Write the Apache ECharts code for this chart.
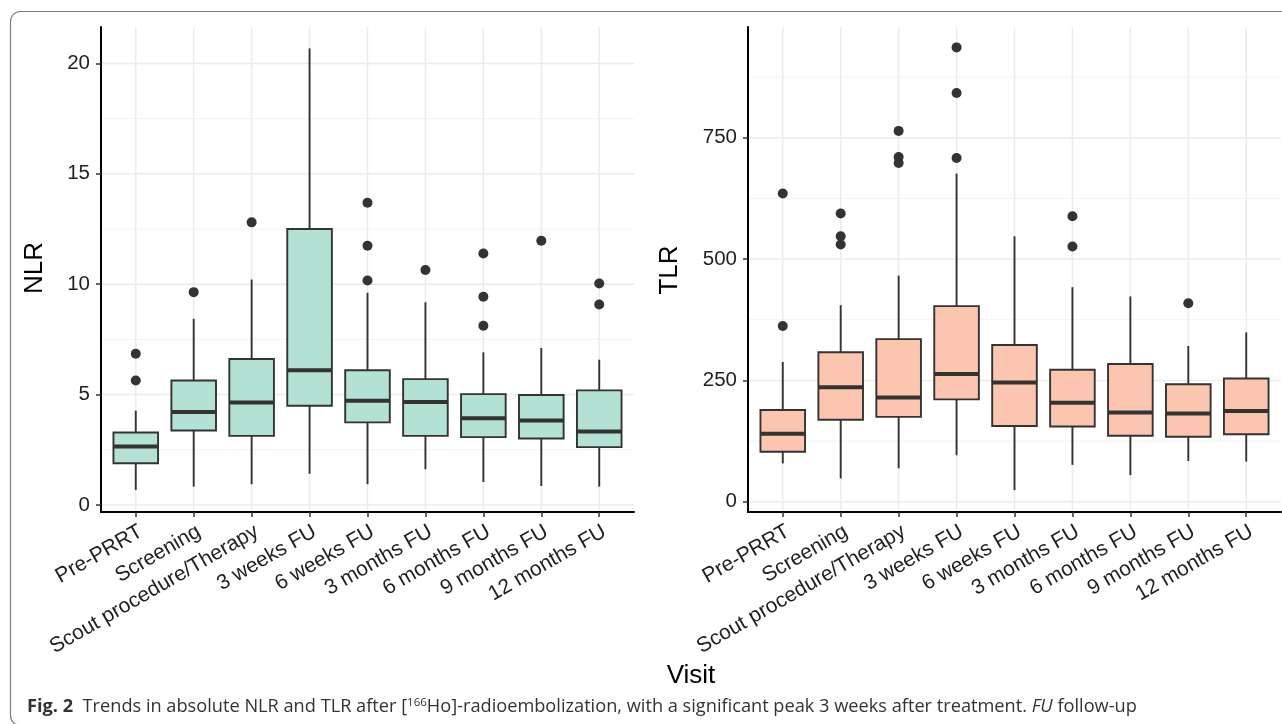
<!DOCTYPE html>
<html>
<head>
<meta charset="utf-8">
<script src="https://cdn.jsdelivr.net/npm/echarts@6/dist/echarts.min.js"></script>
<style>
  html, body { margin: 0; padding: 0; background: #ffffff; }
  #chart { width: 1282px; height: 724px; }
</style>
</head>
<body>
<div id="chart"></div>
<script>
// ---------- DATA ----------
const categories = ['Pre-PRRT', 'Screening', 'Scout procedure/Therapy', '3 weeks FU', '6 weeks FU',
                    '3 months FU', '6 months FU', '9 months FU', '12 months FU'];
const categoryIndex = [0, 1, 2, 3, 4, 5, 6, 7, 8];

// [lower whisker, Q1, median, Q3, upper whisker]
const nlrBoxes = [
  [0.68, 1.89, 2.65, 3.28, 4.27],
  [0.83, 3.37, 4.21, 5.64, 8.43],
  [0.94, 3.13, 4.64, 6.61, 10.21],
  [1.41, 4.49, 6.10, 12.50, 20.68],
  [0.94, 3.74, 4.72, 6.10, 9.61],
  [1.62, 3.13, 4.66, 5.70, 9.18],
  [1.04, 3.07, 3.93, 5.02, 6.91],
  [0.86, 3.01, 3.83, 4.98, 7.11],
  [0.83, 2.62, 3.33, 5.19, 6.58]
];
// [category index, value]
const nlrOutliers = [
  [0, 6.85], [0, 5.64],
  [1, 9.64],
  [2, 12.80],
  [4, 13.69], [4, 11.74], [4, 10.17],
  [5, 10.64],
  [6, 11.39], [6, 9.43], [6, 8.12],
  [7, 11.97],
  [8, 10.03], [8, 9.08]
];

const tlrBoxes = [
  [79, 103, 140, 189, 288],
  [48, 169, 236, 308, 405],
  [69, 175, 215, 335, 466],
  [96, 211, 263, 403, 676],
  [24, 156, 246, 323, 547],
  [76, 155, 204, 272, 442],
  [55, 136, 184, 284, 423],
  [84, 134, 182, 242, 321],
  [83, 139, 187, 254, 349]
];
const tlrOutliers = [
  [0, 635], [0, 362],
  [1, 594], [1, 547], [1, 530],
  [2, 764], [2, 710], [2, 698],
  [3, 936], [3, 842], [3, 708],
  [5, 588], [5, 526],
  [7, 409]
];

const nlrTicks = [0, 5, 10, 15, 20];
const nlrMinor = [2.5, 7.5, 12.5, 17.5];
const tlrTicks = [0, 250, 500, 750];
const tlrMinor = [125, 375, 625, 875];

// ---------- HELPERS ----------
const FONT = "'Liberation Sans', Arial, Helvetica, sans-serif";
const CAP_FONT = "'Open Sans', 'Noto Sans', sans-serif";
const LABEL_COLOR = '#1f1f1f';
const BOX_LINE = '#333333';

function boxData(boxes) {
  return boxes.map((b, i) => [categoryIndex[i]].concat(b));
}
function gridData(major, minor) {
  const out = [];
  major.forEach(v => out.push([0, v, 0]));
  minor.forEach(v => out.push([0, v, 1]));
  categoryIndex.forEach(v => out.push([v, 0, 2]));
  return out;
}

function renderGrid(params, api) {
  const cs = params.coordSys;
  const kind = api.value(2);
  if (kind === 2) {
    const px = api.coord([api.value(0), 0])[0];
    return { type: 'line', shape: { x1: px, y1: cs.y, x2: px, y2: cs.y + cs.height },
             style: { stroke: '#ebebeb', lineWidth: 1.5 } };
  }
  const py = api.coord([0, api.value(1)])[1];
  return { type: 'line', shape: { x1: cs.x, y1: py, x2: cs.x + cs.width, y2: py },
           style: { stroke: kind === 0 ? '#ebebeb' : '#f3f3f3', lineWidth: kind === 0 ? 1.5 : 1 } };
}

function makeBoxRenderer(fill) {
  return function (params, api) {
    const x = api.value(0);
    const lo = api.coord([x, api.value(1)]);
    const q1 = api.coord([x, api.value(2)]);
    const md = api.coord([x, api.value(3)]);
    const q3 = api.coord([x, api.value(4)]);
    const hi = api.coord([x, api.value(5)]);
    const half = api.size([0.77, 0])[0] / 2;
    const cx = lo[0];
    return {
      type: 'group',
      children: [
        { type: 'line', shape: { x1: cx, y1: hi[1], x2: cx, y2: q3[1] },
          style: { stroke: BOX_LINE, lineWidth: 1.9 } },
        { type: 'line', shape: { x1: cx, y1: q1[1], x2: cx, y2: lo[1] },
          style: { stroke: BOX_LINE, lineWidth: 1.9 } },
        { type: 'rect', shape: { x: cx - half, y: q3[1], width: half * 2, height: q1[1] - q3[1] },
          style: { fill: fill, stroke: BOX_LINE, lineWidth: 1.9 } },
        { type: 'line', shape: { x1: cx - half, y1: md[1], x2: cx + half, y2: md[1] },
          style: { stroke: BOX_LINE, lineWidth: 4 } }
      ]
    };
  };
}

function xAxisFor(gridIndex) {
  return {
    type: 'value', gridIndex: gridIndex, min: -0.6, max: 8.6, z: 10,
    axisLine: { show: true, onZero: false, lineStyle: { color: '#000', width: 2 } },
    axisTick: { show: true, customValues: categoryIndex, length: 5, lineStyle: { color: '#333', width: 1.5 } },
    axisLabel: {
      customValues: categoryIndex, formatter: v => categories[Math.round(v)],
      rotate: 30, align: 'right', verticalAlign: 'top', margin: 9,
      fontSize: 21, color: LABEL_COLOR, fontFamily: FONT
    },
    splitLine: { show: false }
  };
}
function yAxisFor(gridIndex, min, max, ticks) {
  return {
    type: 'value', gridIndex: gridIndex, min: min, max: max, z: 10,
    axisLine: { show: true, onZero: false, lineStyle: { color: '#000', width: 2 } },
    axisTick: { show: true, customValues: ticks, length: 5, lineStyle: { color: '#333', width: 1.5 } },
    axisLabel: { customValues: ticks, margin: 11, fontSize: 20.5, color: LABEL_COLOR, fontFamily: FONT },
    splitLine: { show: false }
  };
}

const chart = echarts.init(document.getElementById('chart'), null, { renderer: 'canvas' });
chart.setOption({
  animation: false,
  backgroundColor: '#ffffff',
  grid: [
    { left: 101, top: 27, width: 533, height: 485 },
    { left: 748, top: 27, width: 533, height: 485 }
  ],
  xAxis: [xAxisFor(0), xAxisFor(1)],
  yAxis: [yAxisFor(0, -0.32, 21.65, nlrTicks), yAxisFor(1, -21, 978, tlrTicks)],
  series: [
    { type: 'custom', xAxisIndex: 0, yAxisIndex: 0, z: 0, silent: true,
      data: gridData(nlrTicks, nlrMinor), renderItem: renderGrid },
    { type: 'custom', xAxisIndex: 1, yAxisIndex: 1, z: 0, silent: true,
      data: gridData(tlrTicks, tlrMinor), renderItem: renderGrid },
    { type: 'custom', name: 'NLR', xAxisIndex: 0, yAxisIndex: 0, z: 2,
      encode: { x: 0, y: [1, 2, 3, 4, 5] },
      data: boxData(nlrBoxes), renderItem: makeBoxRenderer('#b3e1d4') },
    { type: 'custom', name: 'TLR', xAxisIndex: 1, yAxisIndex: 1, z: 2,
      encode: { x: 0, y: [1, 2, 3, 4, 5] },
      data: boxData(tlrBoxes), renderItem: makeBoxRenderer('#fbc5b0') },
    { type: 'scatter', xAxisIndex: 0, yAxisIndex: 0, z: 3, symbolSize: 10,
      itemStyle: { color: '#333333', opacity: 1 }, data: nlrOutliers },
    { type: 'scatter', xAxisIndex: 1, yAxisIndex: 1, z: 3, symbolSize: 10,
      itemStyle: { color: '#333333', opacity: 1 }, data: tlrOutliers }
  ],
  graphic: [
    { type: 'rect', silent: true, z: -10,
      shape: { x: 10.5, y: 11.5, width: 1300, height: 714, r: 10 },
      style: { fill: 'none', stroke: '#7d7d7d', lineWidth: 1.2 } },
    { type: 'text', x: 35, y: 268, rotation: Math.PI / 2,
      style: { text: 'NLR', fontSize: 26, fontFamily: FONT, fill: '#000', align: 'center', verticalAlign: 'middle' } },
    { type: 'text', x: 670, y: 270, rotation: Math.PI / 2,
      style: { text: 'TLR', fontSize: 26, fontFamily: FONT, fill: '#000', align: 'center', verticalAlign: 'middle' } },
    { type: 'text', x: 691, y: 676,
      style: { text: 'Visit', fontSize: 26, fontFamily: FONT, fill: '#000', align: 'center', verticalAlign: 'middle' } },
    { type: 'text', x: 27, y: 707,
      style: {
        text: '{b|Fig. 2}  Trends in absolute NLR and TLR after [{sup|166}Ho]-radioembolization, with a significant peak 3 weeks after treatment. {i|FU} follow-up',
        fontSize: 18.2, fontFamily: CAP_FONT, fill: '#333',
        align: 'left', verticalAlign: 'middle',
        rich: {
          b: { fontWeight: 'bold', fontSize: 18.2, fontFamily: CAP_FONT, fill: '#333' },
          sup: { fontSize: 11.5, fontFamily: CAP_FONT, fill: '#333', verticalAlign: 'top', padding: [0, 0, 8, 0] },
          i: { fontStyle: 'italic', fontSize: 18.2, fontFamily: CAP_FONT, fill: '#333' }
        }
      } }
  ]
});
</script>
</body>
</html>
